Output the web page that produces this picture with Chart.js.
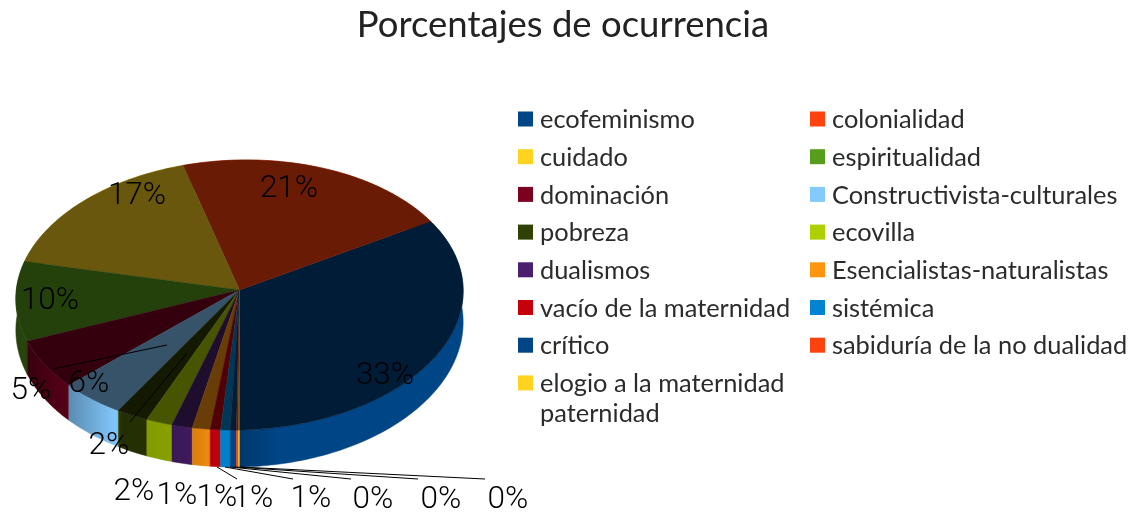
<!DOCTYPE html>
<html lang="es">
<head>
<meta charset="utf-8">
<title>Porcentajes de ocurrencia</title>
<script src="https://cdn.jsdelivr.net/npm/chart.js@4"></script>
<style>
  html, body { margin: 0; background: #fff; }
  canvas { display: block; }
</style>
</head>
<body>
<canvas id="chart" width="1140" height="514"></canvas>
<script>
// Data
const categories = ['ecofeminismo', 'colonialidad', 'cuidado', 'espiritualidad', 'dominación',
    'Constructivista-culturales', 'pobreza', 'ecovilla', 'dualismos', 'Esencialistas-naturalistas',
    'vacío de la maternidad', 'sistémica', 'crítico', 'sabiduría de la no dualidad',
    ['elogio a la maternidad', 'paternidad']];
const values = [33.4, 21.1, 17.0, 9.6, 6.0, 4.6, 2.25, 1.86, 1.45, 1.25, 0.72, 0.67, 0.43, 0.14, 0.07];
const percentLabels = ['33%', '21%', '17%', '10%', '6%', '5%', '2%', '2%', '1%', '1%', '1%', '1%', '0%', '0%', '0%'];
const colors = ['#004586', '#ff420e', '#ffd320', '#579d1c', '#7e0021', '#83caff', '#314004', '#aecf00',
    '#4b1f6f', '#ff950e', '#c5000b', '#0084d1', '#004586', '#ff420e', '#ffd320'];

// Where the source chart put its labels and leader lines (same order as values)
const labelPlaces = [[385, 376], [289, 189], [137, 196], [50, 301], [89, 384], [31, 391], [109, 446], [134, 492],
    [177, 496], [217, 498], [253, 499], [311, 499], [373, 500], [441, 500], [508, 500]];
const leaderLines = [[53, 369, 167, 345], [130, 422, 187, 353], [237, 479, 217, 467], [293, 479, 225, 467],
    [351, 479, 230, 467], [418, 479, 235, 467], [485, 479, 240, 467]];

// Fake 3D view of the pie
const pie = { x: 239.5, y: 290, rx: 223.5, ry: 134.8, persp: 0.037, skew: 4 };
// Brightness of the side wall along x: [x, factor]
const wallLight = [[16, 0.42], [28, 0.45], [70, 0.7], [118, 1], [122, 0.72], [175, 0.78], [215, 0.95],
    [238, 1], [241, 0.62], [265, 1], [470, 1]];
const LABEL_FONT = '300 31.5px Roboto';
const LEGEND_FONT = '25.4px Lato';

function shade(hex, f) {
    const n = parseInt(hex.slice(1), 16);
    const c = [n >> 16, (n >> 8) & 255, n & 255].map(v => Math.round(v * f));
    return `rgb(${c[0]},${c[1]},${c[2]})`;
}

function lightAt(x) {
    for (let i = 1; i < wallLight.length; i++) {
        const a = wallLight[i - 1];
        const b = wallLight[i];
        if (x <= b[0]) {
            return a[1] + (b[1] - a[1]) * Math.max(0, x - a[0]) / (b[0] - a[0]);
        }
    }
    return 1;
}

// Circle angle (chart.js radians) to screen, running counter-clockwise from the bottom
function project(angle, depth) {
    const u = -Math.cos(angle);
    const v = Math.sin(angle);
    const w = 1 / (1 - pie.persp * v);
    const drop = depth ? 31 + 6 * v : 0;
    return [pie.x + pie.rx * u * w, pie.y + pie.ry * v * w - pie.skew * u + drop];
}

function tracePath(ctx, points) {
    ctx.beginPath();
    points.forEach((p, i) => i ? ctx.lineTo(p[0], p[1]) : ctx.moveTo(p[0], p[1]));
    ctx.closePath();
}

function edgePoints(arc, depth) {
    const steps = Math.max(2, Math.ceil((arc.endAngle - arc.startAngle) * 60));
    const pts = [];
    for (let i = 0; i <= steps; i++) {
        pts.push(project(arc.startAngle + (arc.endAngle - arc.startAngle) * i / steps, depth));
    }
    return pts;
}

const pie3d = {
    id: 'pie3d',
    beforeDatasetDraw(chart, args) {
        const ctx = chart.ctx;
        const arcs = args.meta.data;
        ctx.save();
        // side wall first, the top face covers whatever is at the back
        arcs.forEach((arc, i) => {
            const top = edgePoints(arc, false);
            const bottom = edgePoints(arc, true).reverse();
            const xs = top.map(p => p[0]);
            const x0 = Math.min(...xs);
            const x1 = Math.max(...xs);
            const grad = ctx.createLinearGradient(x0, 0, x1, 0);
            for (let s = 0; s <= 12; s++) {
                grad.addColorStop(s / 12, shade(colors[i], lightAt(x0 + (x1 - x0) * s / 12)));
            }
            tracePath(ctx, top.concat(bottom));
            ctx.fillStyle = grad;
            ctx.strokeStyle = grad;
            ctx.lineWidth = 0.5;
            ctx.fill();
            ctx.stroke();
        });
        arcs.forEach((arc, i) => {
            tracePath(ctx, [[pie.x, pie.y]].concat(edgePoints(arc, false)));
            ctx.fillStyle = shade(colors[i], 0.41);
            ctx.strokeStyle = ctx.fillStyle;
            ctx.lineWidth = 0.5;
            ctx.fill();
            ctx.stroke();
        });
        ctx.restore();
        return false;
    },
    afterDraw(chart) {
        const ctx = chart.ctx;
        ctx.save();
        // leader lines and percent labels
        ctx.strokeStyle = '#000';
        ctx.lineWidth = 1;
        leaderLines.forEach(l => {
            ctx.beginPath();
            ctx.moveTo(l[0], l[1]);
            ctx.lineTo(l[2], l[3]);
            ctx.stroke();
        });
        ctx.font = LABEL_FONT;
        ctx.fillStyle = '#000';
        ctx.textAlign = 'center';
        ctx.textBaseline = 'middle';
        percentLabels.forEach((t, i) => ctx.fillText(t, labelPlaces[i][0], labelPlaces[i][1]));
        // legend, row by row in two columns
        ctx.font = LEGEND_FONT;
        ctx.textAlign = 'left';
        categories.forEach((name, i) => {
            const col = i % 2;
            const row = Math.floor(i / 2);
            const y = 119 + row * 37.7;
            ctx.fillStyle = colors[i];
            ctx.fillRect(518 + col * 292, y - 7.5, 15, 15);
            ctx.fillStyle = '#2b2b2b';
            [].concat(name).forEach((line, n) => ctx.fillText(line, 540 + col * 292, y + 1 + n * 30));
        });
        ctx.restore();
    }
};

new Chart(document.getElementById('chart'), {
    type: 'pie',
    data: {
        labels: categories,
        datasets: [{ data: values, backgroundColor: colors, borderWidth: 0 }]
    },
    options: {
        responsive: false,
        animation: false,
        rotation: 180,
        layout: { padding: { right: 14 } },
        plugins: {
            legend: { display: false },
            tooltip: { enabled: false },
            title: {
                display: true,
                text: 'Porcentajes de ocurrencia',
                color: '#222',
                font: { family: 'Lato', size: 36.5, weight: '400' },
                padding: { top: 3, bottom: 10 }
            }
        }
    },
    plugins: [pie3d]
});
</script>
</body>
</html>
